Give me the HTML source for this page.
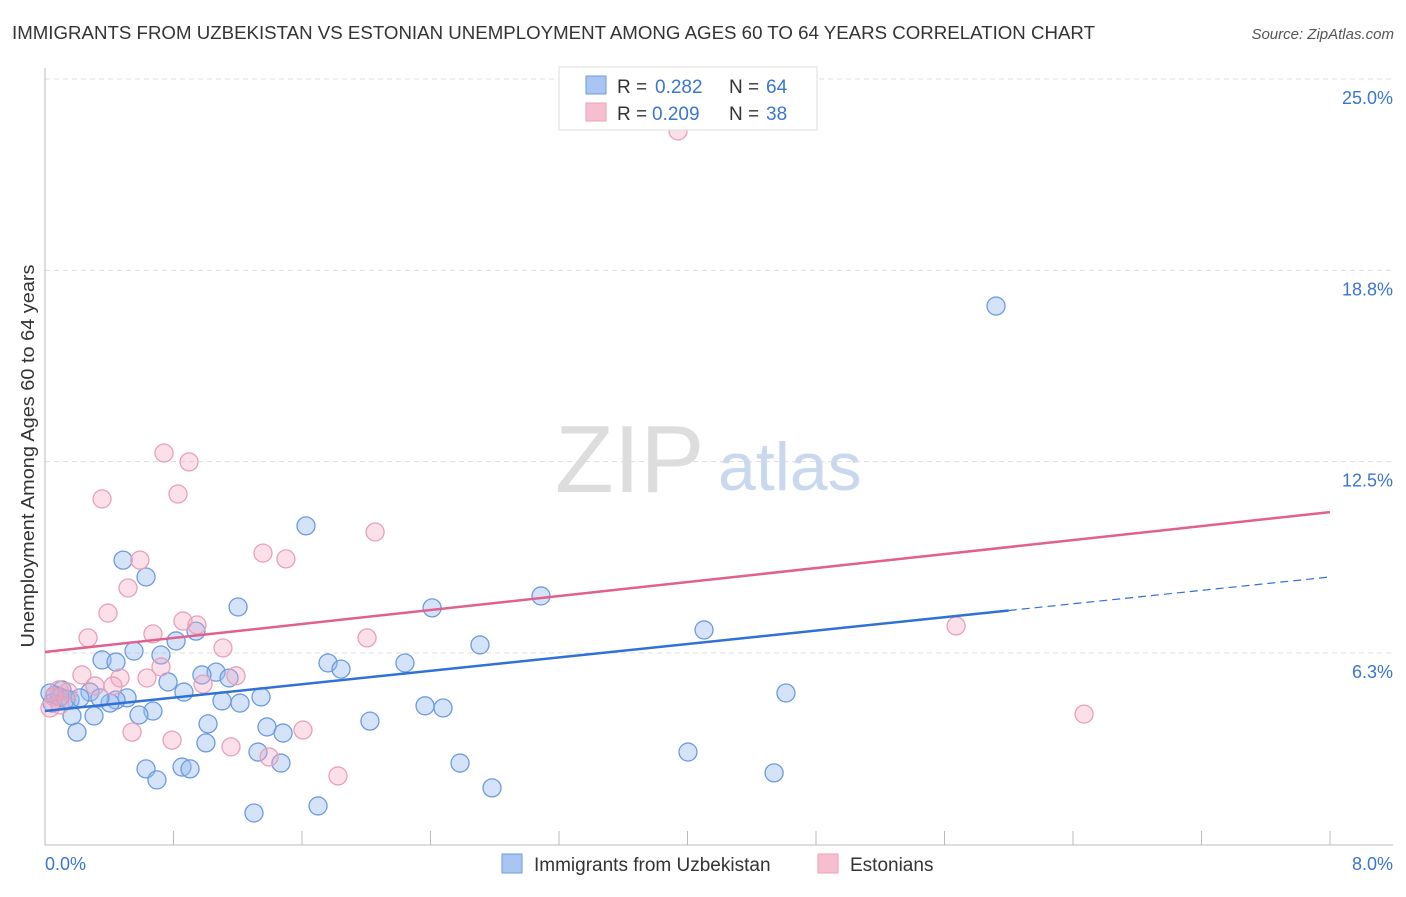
<!DOCTYPE html>
<html><head><meta charset="utf-8"><style>
body{margin:0;background:#fff;font-family:"Liberation Sans",sans-serif}
svg text{font-family:"Liberation Sans",sans-serif}
</style></head><body>
<svg id="c" width="1406" height="892">
<text x="12" y="39" font-size="18" fill="#333" textLength="1083" lengthAdjust="spacingAndGlyphs">IMMIGRANTS FROM UZBEKISTAN VS ESTONIAN UNEMPLOYMENT AMONG AGES 60 TO 64 YEARS CORRELATION CHART</text>
<text x="1394" y="39" font-size="15" fill="#555" text-anchor="end" font-style="italic">Source: ZipAtlas.com</text>
<text x="555" y="492" font-size="96" fill="#ddd" font-family="Liberation Serif,serif">ZIP</text>
<text x="718" y="490" font-size="68" fill="#c9d8ee">atlas</text>
<text transform="translate(34,456) rotate(-90)" font-size="18" fill="#333" text-anchor="middle" textLength="383" lengthAdjust="spacingAndGlyphs">Unemployment Among Ages 60 to 64 years</text>
<g id="grid"></g><g id="marks"></g>
<g>
<rect x="559" y="67" width="258" height="63" fill="#fff" stroke="#ddd"/>
<rect x="586" y="76" width="20" height="18" fill="#a9c6f2" stroke="#6b9be0"/>
<rect x="586" y="103" width="20" height="18" fill="#f6bfd0" stroke="#e8a0b8"/>
<text y="93" font-size="19" fill="#333"><tspan x="617">R =</tspan><tspan x="655" fill="#3a75d0">0.282</tspan><tspan x="729">N =</tspan><tspan x="766" fill="#3a75d0">64</tspan></text>
<text y="120" font-size="19" fill="#333"><tspan x="617">R =</tspan><tspan x="652" fill="#3a75d0">0.209</tspan><tspan x="729">N =</tspan><tspan x="766" fill="#3a75d0">38</tspan></text>
</g>
<g>
<rect x="502" y="854" width="20" height="19" fill="#a9c6f2" stroke="#6b9be0"/>
<text x="534" y="871" font-size="19" fill="#333">Immigrants from Uzbekistan</text>
<rect x="818" y="854" width="20" height="19" fill="#f6bfd0" stroke="#e8a0b8"/>
<text x="850" y="871" font-size="19" fill="#333">Estonians</text>
</g>
</svg>
<script>
const xTicks=[0,8];
const yTicks=[6.25,12.5,18.75,25];
const yTickLabels=["6.3%","12.5%","18.8%","25.0%"];
const blueX=[0.486,0.629,1.625,1.202,2.41,3.088,4.103,5.921,2.708,0.94,0.816,0.554,0.355,0.442,0.722,1.065,1.146,0.766,0.865,0.977,1.762,1.843,2.241,4.613,1.345,1.214,1.102,0.511,0.442,0.28,0.106,0.062,0.044,0.156,0.405,0.672,0.585,0.305,0.168,0.199,1.015,1.382,1.482,1.002,2.023,2.366,2.478,1.326,1.469,0.629,0.853,0.903,0.697,2.584,4.003,4.539,2.783,1.7,1.301,0.093,0.131,0.031,0.218,0.342];
const blueY=[9.87,9.32,10.99,8.34,8.31,8.7,7.59,18.17,7.1,7.55,7.23,6.9,6.61,6.54,6.77,6.21,6.02,5.89,5.56,6.12,6.51,6.31,6.51,5.53,5.4,5.2,5.27,5.37,5.3,5.56,5.63,5.46,5.2,5.3,5.2,4.94,4.81,4.78,4.78,4.25,4.52,4.42,4.22,3.9,4.61,5.11,5.04,3.6,3.24,3.05,3.11,3.05,2.69,3.24,3.6,2.92,2.43,1.84,1.61,5.4,5.33,5.53,5.37,5.37];
const pinkX=[3.941,0.741,0.897,0.828,0.355,2.055,1.357,1.5,0.591,0.517,0.392,0.859,0.946,0.672,0.268,2.005,5.672,1.108,0.722,0.23,0.467,1.189,0.635,0.984,0.423,0.311,0.143,0.087,0.056,0.031,6.469,0.542,0.791,1.606,1.158,1.395,1.824,0.093];
const pinkY=[23.89,13.37,13.08,12.03,11.87,10.79,10.1,9.91,9.87,8.96,8.14,7.88,7.75,7.46,7.33,7.33,7.72,7.0,6.38,6.12,6.02,6.09,6.02,5.82,5.76,5.76,5.56,5.63,5.4,5.04,4.84,4.25,3.99,4.32,3.77,3.44,2.82,5.14];
const blueTrend=[4.94,0.5475]; // intercept, slope
const pinkTrend=[6.87,0.571];
const X=v=>45+v/8*1285;
const Y=v=>97+(25-v)*30.61;
const NS="http://www.w3.org/2000/svg";
function mk(t,a,p){const e=document.createElementNS(NS,t);for(const k in a)e.setAttribute(k,a[k]);p.appendChild(e);return e;}
const g=document.getElementById('grid'),m=document.getElementById('marks');
yTicks.forEach((t,i)=>{
 const l=mk('line',{x1:45,y1:Y(t)-18,x2:1393,y2:Y(t)-18,stroke:'#ddd','stroke-dasharray':'5,4'},g);
 
 
 const tx=mk('text',{x:1393,y:Y(t)+7,'font-size':18,fill:'#3a75d0','text-anchor':'end'},g);
 tx.textContent=yTickLabels[i];
 
 
});
mk('line',{x1:45,y1:68,x2:45,y2:845,stroke:'#bbb'},g);
mk('line',{x1:45,y1:845,x2:1393,y2:845,stroke:'#bbb'},g);
for(let k=1;k<=10;k++){mk('line',{x1:X(k*0.8),y1:831,x2:X(k*0.8),y2:845,stroke:'#bbb'},g);}
xTicks.forEach(t=>{
 const tx=mk('text',{x:t===0?45:1393,y:870,'font-size':18,fill:'#3a75d0','text-anchor':t===0?'start':'end'},g);
 tx.textContent=t.toFixed(1)+'%';
 
 
});
function dots(xs,ys,fill,stroke,name){
 xs.forEach((x,i)=>{
  const c=mk('circle',{cx:X(x),cy:Y(ys[i]),r:9,fill:fill,stroke:stroke,'stroke-width':1.3},m);
  
  
 });
}
dots(blueX,blueY,'rgba(150,185,240,0.4)','#6b9be0','point-uzbekistan');
dots(pinkX,pinkY,'rgba(244,165,192,0.35)','#e8a0b8','point-estonians');
const bl=mk('line',{x1:X(0),y1:Y(blueTrend[0]),x2:X(6),y2:Y(blueTrend[0]+6*blueTrend[1]),stroke:'#2f72d6','stroke-width':2.5},m);


const bd=mk('line',{x1:X(6),y1:Y(blueTrend[0]+6*blueTrend[1]),x2:X(8),y2:Y(blueTrend[0]+8*blueTrend[1]),stroke:'#2f72d6','stroke-width':1.2,'stroke-dasharray':'8,5'},m);


const pl=mk('line',{x1:X(0),y1:Y(pinkTrend[0]),x2:X(8),y2:Y(pinkTrend[0]+8*pinkTrend[1]),stroke:'#e0608e','stroke-width':2.5},m);


</script>
</body></html>
